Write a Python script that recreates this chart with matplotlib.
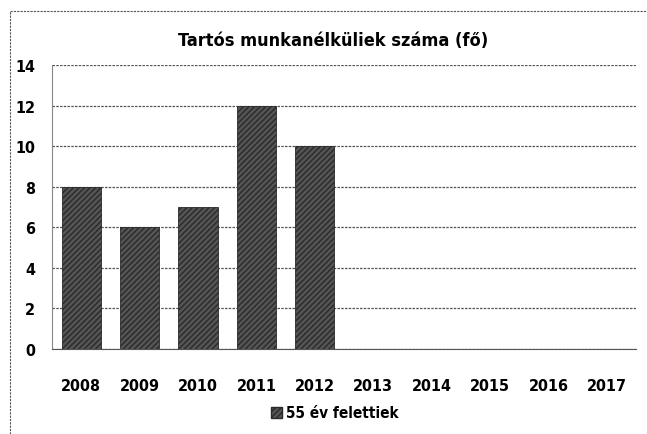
import matplotlib
matplotlib.use("Agg")
import matplotlib.pyplot as plt
import matplotlib.transforms as mtransforms
from matplotlib.lines import Line2D
from matplotlib.patches import Patch

years = ["2008", "2009", "2010", "2011", "2012", "2013", "2014", "2015", "2016", "2017"]
values = [8, 6, 7, 12, 10, 0, 0, 0, 0, 0]
yticks = [0, 2, 4, 6, 8, 10, 12, 14]
title = "Tartós munkanélküliek száma (fő)"
series_name = "55 év felettiek"

plt.rcParams['font.family'] = ['DejaVu Sans']
plt.rcParams['font.stretch'] = 'condensed'
plt.rcParams['hatch.color'] = '#a8a8a8'
plt.rcParams['hatch.linewidth'] = 1.0

W, H = 647, 435
fig = plt.figure(figsize=(W / 100, H / 100), dpi=100)
ax = fig.add_axes([52 / W, 1 - 350 / H, (636 - 52) / W, (350 - 66) / H])

x = list(range(len(years)))
ax.bar(x, values, width=0.67, color='#555555', hatch='//////', edgecolor='#2a2a2a',
       linewidth=0.6, zorder=3)
ax.set_xlim(-0.5, len(years) - 0.5)
ax.set_ylim(0, 14)
ax.set_yticks(yticks)
ax.set_yticklabels([str(v) for v in yticks], fontsize=11.5, fontweight='bold', fontstretch='condensed')
offset = mtransforms.ScaledTranslation(0, -3 / 100, fig.dpi_scale_trans)
for lbl in ax.get_yticklabels():
    lbl.set_transform(lbl.get_transform() + offset)
ax.set_xticks(x)
ax.set_xticklabels(years, fontsize=11.5, fontweight='bold', fontstretch='condensed')
ax.tick_params(axis='both', length=0)
ax.tick_params(axis='x', pad=21)
ax.tick_params(axis='y', pad=12)
ax.grid(axis='y', color='#555555', linestyle=(0, (2, 1)), linewidth=0.9, zorder=0)
for s in ['top', 'right']:
    ax.spines[s].set_visible(False)
ax.spines['left'].set_color('#888888')
ax.spines['left'].set_linewidth(0.8)
ax.spines['bottom'].set_color('#555555')
ax.spines['bottom'].set_linestyle((0, (2, 1)))

fig.text(333 / W, 1 - 41 / H, title, ha='center', va='center', fontsize=13,
         fontweight='bold', fontstretch='condensed')

handle = Patch(facecolor='#555555', hatch='//////', edgecolor='#2a2a2a', label=series_name)
fig.legend(handles=[handle], loc='center', bbox_to_anchor=(335 / W, 1 - 414 / H),
           frameon=False, handlelength=0.7, handleheight=0.7,
           handletextpad=0.3, prop={'weight': 'bold', 'size': 11, 'stretch': 'condensed'})

# outer chart frame
fig.add_artist(Line2D([10 / W, 1], [1 - 12 / H, 1 - 12 / H], transform=fig.transFigure,
                      color='#555555', linestyle=(0, (2, 1)), linewidth=0.8))
fig.add_artist(Line2D([10 / W, 10 / W], [0, 1 - 12 / H], transform=fig.transFigure,
                      color='#555555', linestyle=(0, (2, 1)), linewidth=0.8))

fig.savefig("out.png", dpi=100)
